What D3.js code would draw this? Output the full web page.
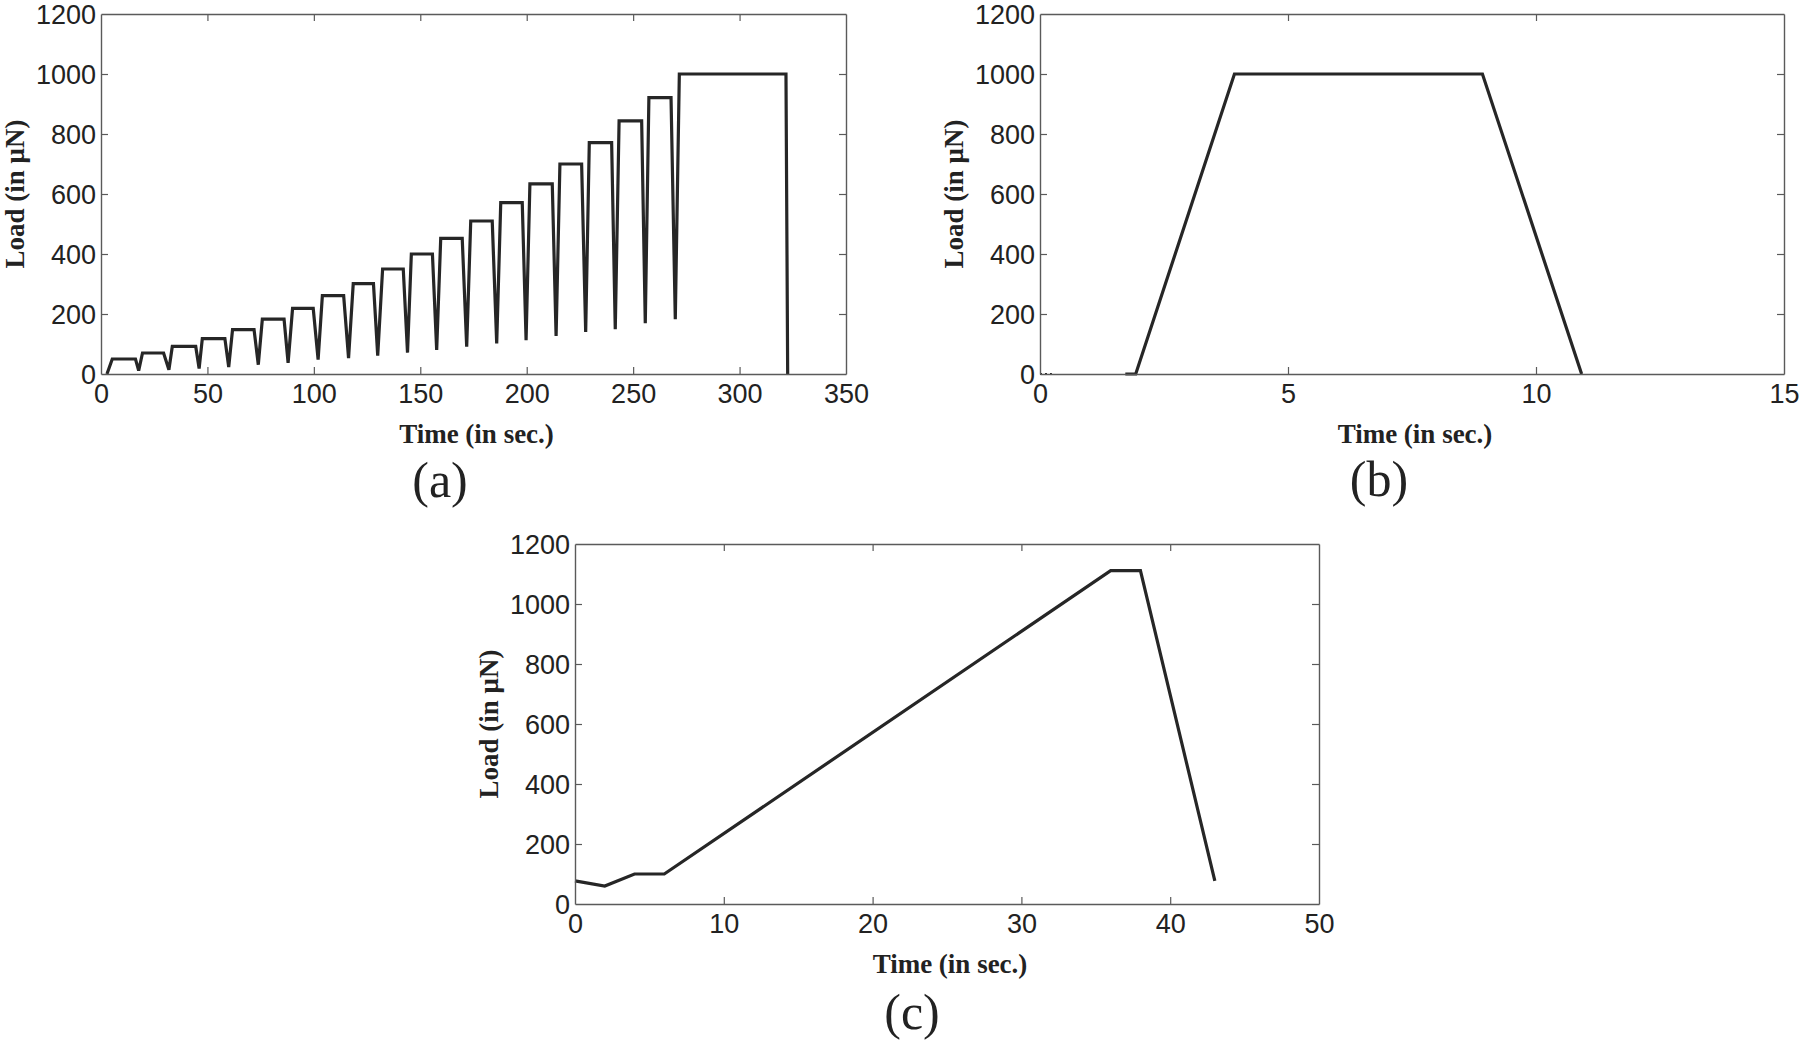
<!DOCTYPE html>
<html>
<head>
<meta charset="utf-8">
<script src="https://cdn.jsdelivr.net/npm/d3@7"></script>
<style>
  html, body { margin: 0; padding: 0; background: #fff; }
  svg { display: block; }
</style>
</head>
<body>
<svg id="chart" width="1800" height="1042"></svg>
<script>
// ---------------- DATA ----------------
// (a) incremental loading-unloading cycles
const aTime = [2.8, 5.3, 16.2, 17.7, 19.5, 29.4, 31.9, 33.5, 44.5, 46.1, 47.6, 58.2, 60.0, 61.8, 71.9, 73.9, 75.8, 86.0, 87.9, 90.0,
  99.7, 102.0, 104.0, 114.0, 116.3, 118.5, 128.0, 130.0, 132.3, 142.0, 144.0, 145.8, 155.7, 157.7, 159.6, 169.7, 171.8, 173.7,
  183.8, 185.9, 187.8, 197.9, 199.7, 201.5, 212.0, 213.8, 215.6, 225.8, 227.7, 229.4, 239.9, 241.6, 243.4, 254.0, 255.7, 257.4,
  267.8, 269.8, 271.7, 321.8, 322.6];
const aLoad = [0, 50, 50, 11, 70, 70, 14, 92, 92, 18, 118, 118, 23, 148, 148, 31, 183, 183, 37, 219,
  219, 48, 261, 261, 53, 301, 301, 61, 350, 350, 71, 400, 400, 80, 452, 452, 91, 510,
  510, 102, 571, 571, 113, 634, 634, 127, 700, 700, 140, 771, 771, 149, 844, 844, 169, 921,
  921, 183, 1000, 1000, 0];

// (b) single trapezoidal load
const bTime = [1.72, 1.93, 3.92, 8.92, 10.92];
const bLoad = [0, 0, 1000, 1000, 0];
const bDotTime = [0, 0.24];
const bDotLoad = [0, 0];

// (c) ramp loading
const cTime = [0, 2, 4, 6, 36, 38, 43];
const cLoad = [77, 60, 100, 100, 1111, 1111, 77];

// ticks / labels
const aXTicks = [0, 50, 100, 150, 200, 250, 300, 350];
const bXTicks = [0, 5, 10, 15];
const cXTicks = [0, 10, 20, 30, 40, 50];
const yTicks = [0, 200, 400, 600, 800, 1000, 1200];
const xTitle = "Time (in sec.)";
const yTitle = "Load (in μN)";
const panelLabels = ["(a)", "(b)", "(c)"];

// ---------------- DRAW ----------------
const svg = d3.select("#chart");
svg.append("rect").attr("width", 1800).attr("height", 1042).attr("fill", "#fff");

const panels = [
  { left: 101, right: 846, top: 14, bottom: 374, xMax: 350, xTicks: aXTicks, series: [{ t: aTime, v: aLoad }], dots: null,
    label: panelLabels[0], labelX: 440, labelY: 497 },
  { left: 1040, right: 1784, top: 14, bottom: 374, xMax: 15, xTicks: bXTicks, series: [{ t: bTime, v: bLoad }], dots: { t: bDotTime, v: bDotLoad },
    label: panelLabels[1], labelX: 1379, labelY: 496 },
  { left: 575, right: 1319, top: 544, bottom: 904, xMax: 50, xTicks: cXTicks, series: [{ t: cTime, v: cLoad }], dots: null,
    label: panelLabels[2], labelX: 912, labelY: 1029 }
];

const axisColor = "#5a5a5a";
const lineColor = "#262626";

panels.forEach(p => {
  const x = d3.scaleLinear().domain([0, p.xMax]).range([p.left, p.right]);
  const y = d3.scaleLinear().domain([0, 1200]).range([p.bottom, p.top]);
  const g = svg.append("g");

  // data lines
  const line = d3.line().x((d) => x(d[0])).y((d) => y(d[1]));
  p.series.forEach(s => {
    const pts = s.t.map((t, i) => [t, s.v[i]]);
    g.append("path").attr("d", line(pts)).attr("fill", "none")
      .attr("stroke", lineColor).attr("stroke-width", 3.2)
      .attr("stroke-linejoin", "miter").attr("stroke-miterlimit", 2);
  });
  if (p.dots) {
    const pts = p.dots.t.map((t, i) => [t, p.dots.v[i]]);
    g.append("path").attr("d", line(pts)).attr("fill", "none")
      .attr("stroke", lineColor).attr("stroke-width", 2).attr("stroke-dasharray", "2,3");
  }

  // axes (MATLAB style box, inward ticks)
  const font = "'Liberation Sans', Arial, sans-serif";
  const styleAxis = (sel) => {
    sel.select(".domain").attr("stroke", axisColor).attr("stroke-width", 1.4);
    sel.selectAll(".tick line").attr("stroke", axisColor).attr("stroke-width", 1.2);
    sel.selectAll(".tick text").attr("fill", "#222").style("font-family", font).style("font-size", "27px");
  };

  const xb = g.append("g").attr("transform", `translate(0,${p.bottom})`)
    .call(d3.axisBottom(x).tickValues(p.xTicks).tickSizeInner(-7).tickSizeOuter(0).tickPadding(10).tickFormat(d3.format("d")));
  styleAxis(xb);
  const xt = g.append("g").attr("transform", `translate(0,${p.top})`)
    .call(d3.axisTop(x).tickValues(p.xTicks).tickSizeInner(-7).tickSizeOuter(0).tickFormat(""));
  styleAxis(xt);
  const yl = g.append("g").attr("transform", `translate(${p.left},0)`)
    .call(d3.axisLeft(y).tickValues(yTicks).tickSizeInner(-7).tickSizeOuter(0).tickPadding(5).tickFormat(d3.format("d")));
  styleAxis(yl);
  yl.selectAll(".tick text").attr("dy", "0.36em");
  const yr = g.append("g").attr("transform", `translate(${p.right},0)`)
    .call(d3.axisRight(y).tickValues(yTicks).tickSizeInner(-7).tickSizeOuter(0).tickFormat(""));
  styleAxis(yr);

  // hide ticks at the box corners
  [xb, xt].forEach(a => a.selectAll(".tick line").filter(d => d === 0 || d === p.xMax).remove());
  [yl, yr].forEach(a => a.selectAll(".tick line").filter(d => d === 0 || d === 1200).remove());

  // axis titles
  g.append("text").attr("x", (p.left + p.right) / 2 + 3).attr("y", p.bottom + 69)
    .attr("text-anchor", "middle").attr("fill", "#222")
    .style("font-family", "'Liberation Serif', 'Times New Roman', serif").style("font-weight", "bold").style("font-size", "27px")
    .text(xTitle);
  g.append("text").attr("transform", `translate(${p.left - 77},${(p.top + p.bottom) / 2}) rotate(-90)`)
    .attr("text-anchor", "middle").attr("fill", "#222")
    .style("font-family", "'Liberation Serif', 'Times New Roman', serif").style("font-weight", "bold").style("font-size", "27px")
    .text(yTitle);

  // panel label
  g.append("text").attr("x", p.labelX).attr("y", p.labelY).attr("text-anchor", "middle").attr("fill", "#222")
    .style("font-family", "'Liberation Serif', 'Times New Roman', serif").style("font-size", "50px")
    .text(p.label);
});
</script>
</body>
</html>
